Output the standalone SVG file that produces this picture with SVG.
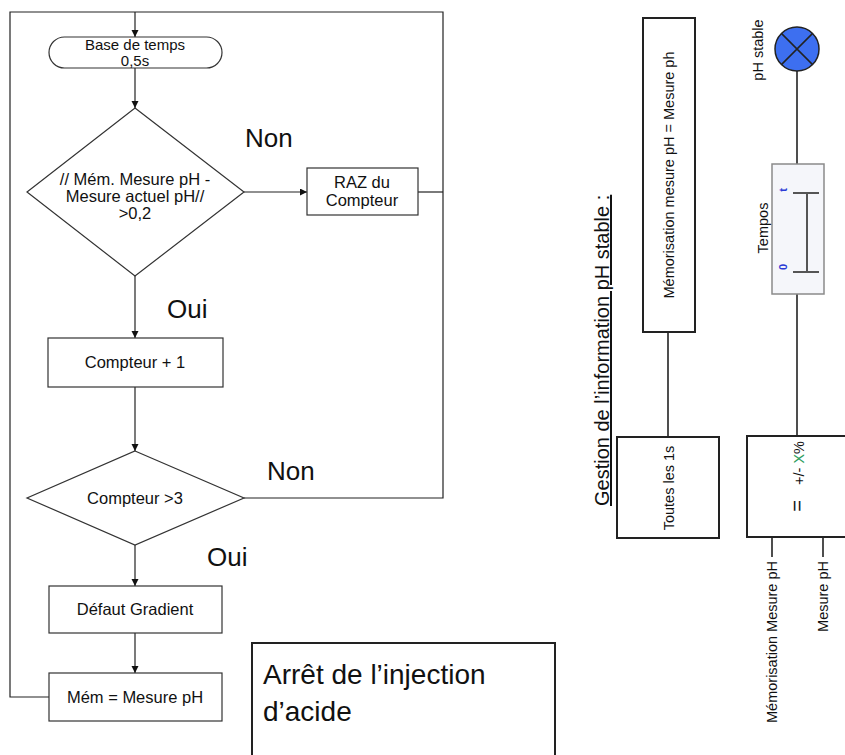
<svg xmlns="http://www.w3.org/2000/svg" width="845" height="755" viewBox="0 0 845 755">
<defs>
<marker id="arr" markerUnits="userSpaceOnUse" markerWidth="8" markerHeight="8" refX="7" refY="3.5" orient="auto">
<path d="M0,0 L7,3.5 L0,7 Z" fill="#111"/>
</marker>
<style>
text{font-family:"Liberation Sans",Arial,sans-serif;fill:#111}
.fc{fill:#fff;stroke:#333;stroke-width:1.2}
.ln{fill:none;stroke:#222;stroke-width:1.2}
.t16{font-size:16.5px;text-anchor:middle}
.big{font-size:26px}
.rb{fill:#fff;stroke:#222;stroke-width:2}
.rl{fill:none;stroke:#222;stroke-width:1.6}
.r14{font-size:14.5px}
.blue{font-size:11px;font-weight:bold;fill:#2b3bd6;text-anchor:middle}
</style>
</defs>
<rect width="845" height="755" fill="#fff"/>

<g id="connectors">
<path class="ln" d="M49,697 H10 V12 H443 V498 H244"/>
<path class="ln" d="M418,192 H443"/>
<path class="ln" d="M135,12 V37" marker-end="url(#arr)"/>
<path class="ln" d="M135,68 V108" marker-end="url(#arr)"/>
<path class="ln" d="M244,192 H307" marker-end="url(#arr)"/>
<path class="ln" d="M135,276 V338" marker-end="url(#arr)"/>
<path class="ln" d="M135,387 V451" marker-end="url(#arr)"/>
<path class="ln" d="M135,545 V586" marker-end="url(#arr)"/>
<path class="ln" d="M135,633 V673" marker-end="url(#arr)"/>
<path class="rl" d="M668,332 V437"/>
<path class="rl" d="M797,71 V164"/>
<path class="rl" d="M797,294 V436"/>
<path class="rl" d="M772,537 V557"/>
<path class="rl" d="M823,537 V557"/>
</g>

<g id="base-temps">
<rect class="fc" x="49" y="37" width="173" height="31" rx="15.5"/>
<text x="135" y="50" font-size="15" text-anchor="middle">Base de temps</text>
<text x="135" y="66" font-size="15" text-anchor="middle">0,5s</text>
</g>

<g id="test-mesure">
<polygon class="fc" points="135,108 244,192 135,276 27,192"/>
<text class="t16" x="135" y="185">// Mém. Mesure pH -</text>
<text class="t16" x="135" y="202">Mesure actuel pH//</text>
<text class="t16" x="135" y="219">&gt;0,2</text>
</g>

<g id="raz">
<rect class="fc" x="307" y="168" width="111" height="47"/>
<text class="t16" x="362" y="188">RAZ du</text>
<text class="t16" x="362" y="206">Compteur</text>
</g>

<g id="compteur-plus">
<rect class="fc" x="48" y="338" width="175" height="49"/>
<text class="t16" x="135" y="368">Compteur + 1</text>
</g>

<g id="test-compteur">
<polygon class="fc" points="135,451 244,498 135,545 27,498"/>
<text class="t16" x="135" y="504">Compteur &gt;3</text>
</g>

<g id="defaut">
<rect class="fc" x="49" y="586" width="173" height="47"/>
<text class="t16" x="135" y="615">Défaut Gradient</text>
</g>

<g id="mem">
<rect class="fc" x="49" y="673" width="173" height="48"/>
<text class="t16" x="135" y="703">Mém = Mesure pH</text>
</g>

<g id="labels">
<text class="big" x="245" y="147">Non</text>
<text class="big" x="167" y="318">Oui</text>
<text class="big" x="267" y="480">Non</text>
<text class="big" x="207" y="566">Oui</text>
</g>

<g id="arret">
<rect x="252" y="643" width="303" height="120" fill="#fff" stroke="#222" stroke-width="2"/>
<text x="263" y="684" font-size="28">Arrêt de l’injection</text>
<text x="263" y="721" font-size="28">d’acide</text>
</g>

<g id="titre">
<text transform="translate(609,506) rotate(-90)" font-size="20" text-decoration="underline">Gestion de l’information pH stable :</text>
</g>

<g id="memorisation">
<rect class="rb" x="643" y="18" width="52" height="314"/>
<text class="r14" transform="translate(674,175) rotate(-90)" text-anchor="middle">Mémorisation mesure pH = Mesure ph</text>
</g>

<g id="toutes">
<rect class="rb" x="617" y="437" width="102" height="101"/>
<text class="r14" transform="translate(674,488) rotate(-90)" text-anchor="middle">Toutes les 1s</text>
</g>

<g id="lampe">
<circle cx="797" cy="49" r="22" fill="#3d6ff0" stroke="#222" stroke-width="1.5"/>
<path d="M781.4,33.4 L812.6,64.6 M812.6,33.4 L781.4,64.6" stroke="#222" stroke-width="1.5"/>
<text class="r14" transform="translate(763,50) rotate(-90)" text-anchor="middle">pH stable</text>
</g>

<g id="tempo">
<rect x="772" y="164" width="52" height="130" fill="#f5f6fa" stroke="#8a8a8a" stroke-width="1.5"/>
<path d="M793,193 H819 M793,272 H819 M807,193 V272" fill="none" stroke="#555" stroke-width="2"/>
<text class="blue" transform="translate(787,190) rotate(-90)">t</text>
<text class="blue" transform="translate(787,267) rotate(-90)">0</text>
<text class="r14" transform="translate(768,228) rotate(-90)" text-anchor="middle">Tempos</text>
</g>

<g id="comparateur">
<rect class="rb" x="747" y="436" width="120" height="101"/>
<text class="r14" transform="translate(804,463) rotate(-90)" text-anchor="middle">+/- <tspan fill="#2e9e5e">X</tspan>%</text>
<text transform="translate(804,506) rotate(-90)" font-size="20" text-anchor="middle">=</text>
</g>

<g id="entrees">
<text class="r14" transform="translate(777,561) rotate(-90)" text-anchor="end">Mémorisation Mesure pH</text>
<text class="r14" transform="translate(828,561) rotate(-90)" text-anchor="end">Mesure pH</text>
</g>
</svg>
